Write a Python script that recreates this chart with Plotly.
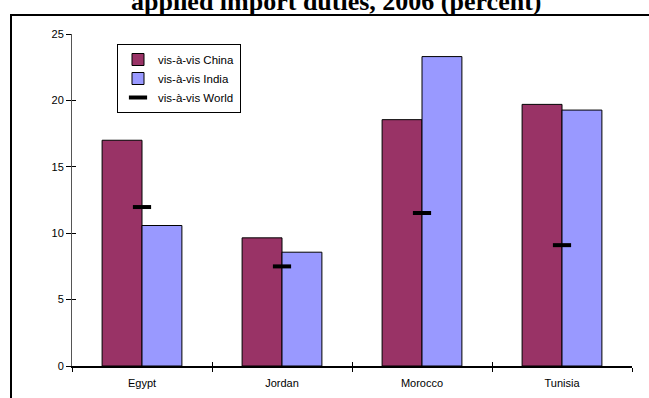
import plotly.graph_objects as go

countries = ["Egypt", "Jordan", "Morocco", "Tunisia"]
china = [17.0, 9.65, 18.55, 19.7]
india = [10.58, 8.57, 23.3, 19.27]
world = [11.97, 7.5, 11.52, 9.1]
series_names = ["vis-à-vis China", "vis-à-vis India", "vis-à-vis World"]
y_ticks = [0, 5, 10, 15, 20, 25]
title_text = "applied import duties, 2006 (percent)"

W, H = 649, 398
L, R, T, B = 72, 17, 34, 32
pw, ph = W - L - R, H - T - B

def px_x(x):
    return (x - L) / pw

def px_y(y):
    return (H - B - y) / ph

fig = go.Figure()
fig.add_trace(go.Bar(x=countries, y=china, name=series_names[0],
                     marker=dict(color="#993366", line=dict(color="black", width=1))))
fig.add_trace(go.Bar(x=countries, y=india, name=series_names[1],
                     marker=dict(color="#9999FF", line=dict(color="black", width=1))))
fig.add_trace(go.Scatter(x=countries, y=world, name=series_names[2], mode="markers",
                         marker=dict(symbol="line-ew", size=13, color="black",
                                     line=dict(color="black", width=4))))
# empty helper trace for overlay tick axes
fig.add_trace(go.Scatter(x=[], y=[], xaxis="x2", yaxis="y2", showlegend=False, hoverinfo="skip"))

fig.update_layout(
    width=W, height=H,
    margin=dict(l=L, r=R, t=T, b=B),
    paper_bgcolor="white", plot_bgcolor="white",
    barmode="group", bargap=0.43, bargroupgap=0,
    font=dict(family="Liberation Sans, Arial", size=11, color="black"),
    showlegend=True,
    legend=dict(x=px_x(117), y=px_y(44), xanchor="left", yanchor="top",
                bordercolor="black", borderwidth=1, bgcolor="white",
                font=dict(size=11.5), tracegroupgap=2, itemwidth=30,
                traceorder="normal"),
    xaxis=dict(type="category", categoryorder="array", categoryarray=countries,
               showgrid=False, showline=True, linecolor="black", linewidth=1.5,
               ticks="outside", ticklen=4, tickcolor="black", tickson="boundaries",
               tickfont=dict(size=11), ticklabelstandoff=6, zeroline=False,
               automargin=False),
    yaxis=dict(range=[0, 25], tickvals=y_ticks, showgrid=False, showline=True,
               linecolor="#555555", linewidth=1, ticks="outside", ticklen=5,
               tickcolor="black", tickfont=dict(size=11), zeroline=False,
               automargin=False),
    xaxis2=dict(overlaying="x", range=[-0.5, 3.5], tickvals=[-0.5, 0.5, 1.5, 2.5, 3.5],
                ticks="inside", ticklen=4, tickcolor="black", showticklabels=False,
                showgrid=False, showline=False, zeroline=False, side="bottom"),
    yaxis2=dict(overlaying="y", range=[0, 25], tickvals=y_ticks, ticks="inside",
                ticklen=4, tickcolor="black", showticklabels=False, showgrid=False,
                showline=False, zeroline=False, side="left"),
    shapes=[dict(type="rect", xref="paper", yref="paper",
                 x0=px_x(11), x1=px_x(680), y0=px_y(430), y1=px_y(15),
                 line=dict(color="black", width=2), fillcolor="rgba(0,0,0,0)",
                 layer="below")],
    annotations=[dict(text="<b>" + title_text + "</b>", xref="paper", yref="paper",
                      x=px_x(336), y=px_y(2), xanchor="center", yanchor="middle",
                      showarrow=False,
                      font=dict(family="Liberation Serif, Times New Roman", size=26,
                                color="black"))],
)

fig.write_html("out.html")
